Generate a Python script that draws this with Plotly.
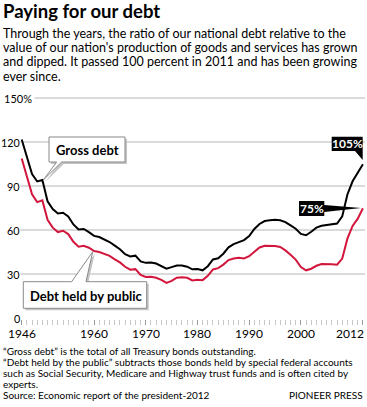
import plotly.graph_objects as go

years = list(range(1946, 2013))
gross_debt = [121.7, 110.3, 98.2, 93.1, 94.1, 79.6, 74.3, 71.3, 71.8, 69.3,
              63.8, 60.4, 60.7, 58.5, 56.0, 55.2, 53.4, 51.8, 49.3, 46.9,
              43.5, 42.0, 42.5, 38.6, 37.6, 37.8, 37.1, 35.6, 33.6, 34.7,
              35.8, 35.8, 35.0, 33.2, 33.4, 32.5, 35.3, 39.9, 40.7, 43.8,
              48.2, 50.4, 51.9, 53.1, 55.9, 60.7, 64.1, 66.1, 66.6, 67.0,
              66.6, 65.4, 63.2, 60.9, 57.3, 56.4, 58.8, 61.6, 62.9, 63.5,
              63.9, 64.4, 69.4, 84.2, 93.2, 98.7, 104.8]
public_debt = [108.7, 96.2, 84.3, 79.0, 80.2, 66.9, 61.6, 58.6, 59.5, 57.2,
               52.0, 48.6, 49.2, 47.9, 45.6, 45.0, 43.7, 42.4, 40.0, 37.9,
               34.9, 32.9, 33.3, 29.3, 28.0, 28.1, 27.4, 26.0, 23.9, 25.3,
               27.5, 27.8, 27.4, 25.6, 26.1, 25.8, 28.7, 33.1, 34.0, 36.4,
               39.5, 40.6, 41.0, 40.6, 42.1, 45.3, 48.1, 49.3, 49.2, 49.1,
               48.4, 46.1, 43.1, 39.8, 34.7, 32.5, 33.6, 35.6, 36.8, 36.9,
               36.6, 36.3, 40.5, 54.1, 62.8, 67.7, 74.8]
y_ticks = [0, 30, 60, 90, 120, 150]
x_label_years = [1946, 1960, 1970, 1980, 1990, 2000, 2012]

W, H = 367, 407
L, R, T, B = 18, 365, 97, 319
FONT = "Lato"
RED = "#d3163c"


def xp(px):
    return (px - L) / (R - L)


def yp(py):
    return (B - py) / (B - T)


def path(points):
    s = "M " + " L ".join(f"{xp(x):.5f},{yp(y):.5f}" for x, y in points) + " Z"
    return s


fig = go.Figure()
fig.add_trace(go.Scatter(x=years, y=public_debt, mode="lines",
                         line=dict(color=RED, width=2), hoverinfo="skip"))
fig.add_trace(go.Scatter(x=years, y=gross_debt, mode="lines",
                         line=dict(color="black", width=2), hoverinfo="skip"))

shapes = []
# Gross debt callout
gross_pts = [(49, 137), (125, 137), (125, 162), (61.7, 162), (43.3, 180), (56.7, 162), (49, 162)]
shapes.append(dict(type="path", xref="paper", yref="paper",
                   path=path([(x + 2, y + 2) for x, y in gross_pts]),
                   fillcolor="#c4c4c4", line=dict(width=0), layer="above"))
shapes.append(dict(type="path", xref="paper", yref="paper", path=path(gross_pts),
                   fillcolor="white", line=dict(color="#8a8a8a", width=1), layer="above"))
# Debt held by public callout
pub_pts = [(23.3, 281.7), (71.7, 281.7), (92.7, 251.7), (86, 281.7), (146.7, 281.7),
           (146.7, 308.3), (23.3, 308.3)]
shapes.append(dict(type="path", xref="paper", yref="paper",
                   path=path([(x + 2, y + 2) for x, y in pub_pts]),
                   fillcolor="#c4c4c4", line=dict(width=0), layer="above"))
shapes.append(dict(type="path", xref="paper", yref="paper", path=path(pub_pts),
                   fillcolor="white", line=dict(color="#8a8a8a", width=1), layer="above"))
# 105% label
shapes.append(dict(type="path", xref="paper", yref="paper",
                   path=path([(331.7, 136.7), (362.7, 136.7), (362.7, 160), (355, 151), (331.7, 151)]),
                   fillcolor="black", line=dict(width=0), layer="above"))
# 75% label
shapes.append(dict(type="path", xref="paper", yref="paper",
                   path=path([(299, 201), (324.3, 201), (324.3, 205), (361, 208), (324.3, 212),
                              (324.3, 216), (299, 216)]),
                   fillcolor="black", line=dict(width=0), layer="above"))

ann = []


def txt(text, x, y, size, color="black", bold=False, xanchor="left", **kw):
    if bold:
        text = f"<b>{text}</b>"
    ann.append(dict(text=text, x=xp(x), y=yp(y), xref="paper", yref="paper",
                    xanchor=xanchor, yanchor="middle", showarrow=False,
                    font=dict(family=FONT, size=size, color=color), **kw))


# Title & subtitle
txt("Paying for our debt", 1, 10.5, 18.5, bold=True)
subtitle = ["Through the years, the ratio of our national debt relative to the",
            "value of our nation's production of goods and services has grown",
            "and dipped. It passed 100 percent in 2011 and has been growing",
            "ever since."]
for i, line in enumerate(subtitle):
    txt(line, 1, 33.5 + i * 14.2, 12.5)

# Y tick labels
for v in y_ticks:
    py = 318 - v * (B - T) / 151.4
    if v == 150:
        txt("150%", 0.5, py, 11, bgcolor="white", borderpad=2)
    else:
        txt(str(v), 20.5, py, 10.8, xanchor="right", borderpad=0, bgcolor="white")

# X tick labels
for yr in x_label_years:
    px = 21.7 + (yr - 1946) * 5.17
    if yr == 2012:
        txt(str(yr), 366, 333.5, 12, xanchor="right")
    else:
        txt(str(yr), px, 333.5, 12, xanchor="center")

# Callout texts
txt("Gross debt", 87, 149.5, 13, bold=True, xanchor="center")
txt("Debt held by public", 86.5, 295.5, 13, bold=True, xanchor="center")
txt("105%", 347.2, 143.8, 12, color="white", bold=True, xanchor="center")
txt("75%", 311.7, 208.5, 12, color="white", bold=True, xanchor="center")

# Footer
footer = ["“Gross debt” is the total of all Treasury bonds outstanding.",
          "“Debt held by the public” subtracts those bonds held by special federal accounts",
          "such as Social Security, Medicare and Highway trust funds and is often cited by",
          "experts.",
          "Source: Economic report of the president-2012"]
for i, line in enumerate(footer):
    txt(line, 1, 350.5 + i * 11, 10)
txt("PIONEER PRESS", 365, 350.5 + 4 * 11, 10, xanchor="right")

fig.update_layout(
    width=W, height=H, autosize=False,
    margin=dict(l=L, r=W - R, t=T, b=H - B, pad=0),
    paper_bgcolor="white", plot_bgcolor="white",
    showlegend=False,
    shapes=shapes, annotations=ann,
    xaxis=dict(range=[1946 - 3.7 / 5.17, 1946 - 3.7 / 5.17 + (R - L) / 5.17],
               showgrid=False, zeroline=False, showline=False,
               ticks="outside", tickvals=x_label_years, ticklen=5, tickwidth=1,
               tickcolor="#999999", showticklabels=False,
               minor=dict(ticks="outside", dtick=1, tick0=1946, ticklen=5,
                          tickwidth=1, tickcolor="#c8c8c8", showgrid=False)),
    yaxis=dict(range=[-0.7, 150.7], tickvals=[30, 60, 90, 120, 150],
               showgrid=True, gridcolor="#dadada", gridwidth=1.5,
               zeroline=False, showticklabels=False, showline=False, ticks=""),
)
fig.write_html("out.html", config={"displayModeBar": False},
               post_script="document.body.style.margin='0';document.body.style.overflow='hidden';")
